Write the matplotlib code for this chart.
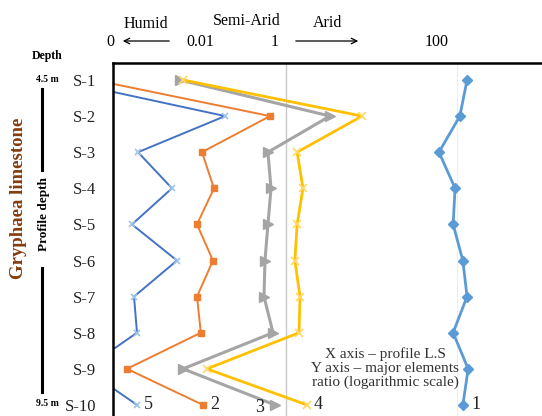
import matplotlib
matplotlib.use("Agg")
import matplotlib.pyplot as plt
import numpy as np

plt.rcParams['font.family'] = ['Liberation Serif', 'DejaVu Serif']

samples = ['S-1', 'S-2', 'S-3', 'S-4', 'S-5', 'S-6', 'S-7', 'S-8', 'S-9', 'S-10']

# major element ratios (log scale)
ratio1 = [131, 108, 61.5, 95, 90, 117, 131, 90, 135, 117]
ratio2 = [0.0057, 0.65, 0.104, 0.144, 0.091, 0.14, 0.091, 0.101, 0.0138, 0.107]
ratio3 = [0.0576, 3.27, 0.615, 0.668, 0.615, 0.568, 0.553, 0.705, 0.0624, 0.743]
ratio4 = [0.0624, 7.74, 1.35, 1.58, 1.35, 1.27, 1.46, 1.42, 0.119, 1.76]
ratio5 = [0.00215, 0.194, 0.0186, 0.0464, 0.0158, 0.0531, 0.0167, 0.0181, 0.00446, 0.0181]

W, H = 542, 416
fig = plt.figure(figsize=(W / 100, H / 100), dpi=100)


def fx(px):
    return px / W


def fy(py):
    return 1 - py / H


ax = fig.add_axes([fx(113), fy(423), (620 - 113) / W, (423 - 63) / H])
ax.set_xscale('log')
ax.set_xlim(10 ** -2.023, 10 ** 3.906)
ax.set_ylim(10.5, 0.53)

y = np.arange(1, len(samples) + 1)

ax.axvline(1, color='#C8C8C8', lw=1, zorder=0)
ax.axvline(100, color='#EEEEEE', lw=0.8, zorder=0)

ax.plot(ratio1, y, color='#5B9BD5', lw=2, marker='D', ms=5)
ax.plot(ratio2, y, color='#ED7D31', lw=1.4, marker='s', ms=5)
ax.plot(ratio3, y, color='#A5A5A5', lw=2.2, marker='>', ms=6.5)
ax.plot(ratio4, y, color='#FFC000', lw=2, marker='x', ms=6, mec='#FFD966', mew=1.2)
ax.plot(ratio5, y, color='#4472C4', lw=1.4, marker='x', ms=5, mec='#9DC3E6', mew=1.2)

# series numbers at the last sample
ax.annotate('1', (ratio1[-1], y[-1]), xytext=(6, 0), textcoords='offset points',
            va='center', ha='left', fontsize=13, color='#222222')
ax.annotate('2', (ratio2[-1], y[-1]), xytext=(5, 0), textcoords='offset points',
            va='center', ha='left', fontsize=13, color='#222222')
ax.annotate('3', (ratio3[-1], y[-1]), xytext=(-8, -2), textcoords='offset points',
            va='center', ha='right', fontsize=13, color='#222222')
ax.annotate('4', (ratio4[-1], y[-1]), xytext=(5, 0), textcoords='offset points',
            va='center', ha='left', fontsize=13, color='#222222')
ax.annotate('5', (ratio5[-1], y[-1]), xytext=(5, 0), textcoords='offset points',
            va='center', ha='left', fontsize=13, color='#222222')

ax.set_yticks(y)
ax.set_yticklabels(samples, fontsize=12, color='#222222')
ax.tick_params(axis='y', length=0, pad=12)
ax.set_xticks([])
ax.xaxis.set_minor_locator(matplotlib.ticker.NullLocator())

for side in ['left', 'top']:
    ax.spines[side].set_linewidth(1.8)
    ax.spines[side].set_color('black')
ax.spines['right'].set_visible(False)
ax.spines['bottom'].set_visible(False)

fig.text(fx(385), fy(368), 'X axis \u2013 profile L.S\nY axis \u2013 major elements\nratio (logarithmic scale)',
         ha='center', va='center', fontsize=11, color='#333333', linespacing=1.1)

# top scale annotations
fig.text(fx(146), fy(24), 'Humid', ha='center', va='center', fontsize=11.5)
fig.text(fx(247), fy(21), 'Semi-Arid', ha='center', va='center', fontsize=11.5)
fig.text(fx(328), fy(23), 'Arid', ha='center', va='center', fontsize=11.5)
fig.text(fx(110), fy(42), '0', ha='center', va='center', fontsize=11.5)
fig.text(fx(200), fy(42), '0.01', ha='center', va='center', fontsize=11.5)
fig.text(fx(275), fy(42), '1', ha='center', va='center', fontsize=11.5)
fig.text(fx(437), fy(42), '100', ha='center', va='center', fontsize=11.5)
fig.add_artist(matplotlib.patches.FancyArrowPatch((fx(172), fy(41)), (fx(120), fy(41)),
                                                  transform=fig.transFigure, arrowstyle='->',
                                                  mutation_scale=10, lw=0.9, color='black'))
fig.add_artist(matplotlib.patches.FancyArrowPatch((fx(293), fy(41)), (fx(361), fy(41)),
                                                  transform=fig.transFigure, arrowstyle='->',
                                                  mutation_scale=10, lw=0.9, color='black'))

# depth column on the left
fig.text(fx(47), fy(56), 'Depth', ha='center', va='center', fontsize=8.5, fontweight='bold')
fig.text(fx(47), fy(79), '4.5 m', ha='center', va='center', fontsize=7, fontweight='bold')
fig.text(fx(47), fy(403), '9.5 m', ha='center', va='center', fontsize=7, fontweight='bold')
fig.add_artist(plt.Line2D([fx(42), fx(42)], [fy(89), fy(170)], color='black', lw=2.2))
fig.add_artist(plt.Line2D([fx(42), fx(42)], [fy(268), fy(392)], color='black', lw=2.2))
fig.text(fx(44), fy(214), 'Profile depth', ha='center', va='center', rotation=90,
         fontsize=9.5, fontweight='bold')
fig.text(fx(19), fy(198), 'Gryphaea limestone', ha='center', va='center', rotation=90,
         fontsize=13.5, fontweight='bold', color='#843C0C')

fig.savefig('out.png', dpi=100)
